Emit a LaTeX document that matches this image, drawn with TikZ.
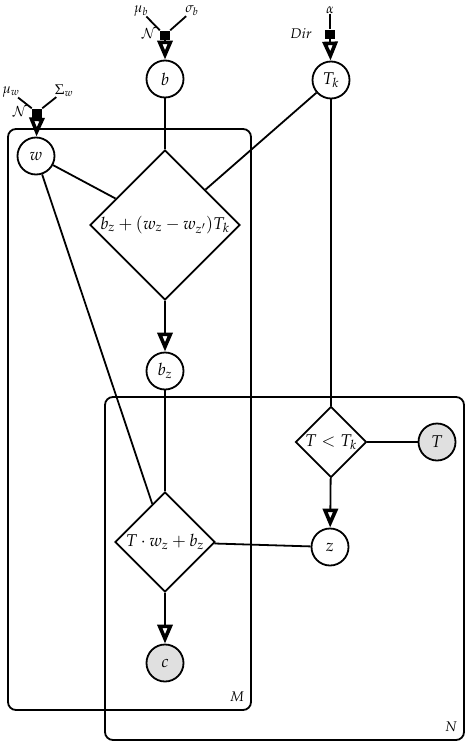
\documentclass[tikz,border=0pt]{standalone}
\usepackage{mathpazo}
\usetikzlibrary{shapes.geometric,arrows.meta}
\begin{document}
\begin{tikzpicture}[x=1pt,y=-1pt,
  every node/.style={font=\fontsize{17}{19}\selectfont},
  var/.style={circle,draw,line width=1.8pt,minimum size=37pt,inner sep=0pt,fill=white},
  obs/.style={var,fill=black!12},
  det/.style={diamond,draw,line width=1.8pt,inner sep=0pt,fill=white,aspect=1},
  fac/.style={rectangle,fill=black,minimum width=10pt,minimum height=9pt,inner sep=0pt},
  lab/.style={font=\fontsize{14}{16}\selectfont,inner sep=0pt},
  plate/.style={draw,line width=1.8pt,rounded corners=8pt},
  edge/.style={line width=1.8pt},
  arr/.style={edge,-{Triangle[open,length=19pt,width=15pt,line width=3.6pt]}}]
\useasboundingbox (0,0) rectangle (468,744);
% plates
\draw[plate] (8,129) rectangle (251,710);
\draw[plate] (105,397) rectangle (464,740);
\node[lab] (Mlab) at (237,697) {$M$};
\node[lab] (Nlab) at (451,727) {$N$};
% nodes
\node[var] (b) at (165,79) {$b$};
\node[var] (w) at (36,156) {$w$};
\node[var] (Tk) at (331,80) {$T_k$};
\node[det,minimum width=150pt,minimum height=150pt] (d1) at (165,225) {$b_z+(w_z-w_{z'})T_k$};
\node[var] (bz) at (165,371) {$b_z$};
\node[det,minimum width=71pt,minimum height=71pt] (d2) at (331,442) {$T<T_k$};
\node[obs] (T) at (437,442) {$T$};
\node[var] (z) at (330,547) {$z$};
\node[det,minimum width=100pt,minimum height=100pt] (d3) at (165,542) {$T\cdot w_z+b_z$};
\node[obs] (c) at (165,663) {$c$};
% factors
\node[fac] (fb) at (165,35) {};
\node[fac] (fw) at (37,113) {};
\node[fac] (fT) at (330,34) {};
\node[lab] (Nb) at (149,34) {$\mathcal{N}$};
\node[lab] (Nw) at (20,112) {$\mathcal{N}$};
\node[lab] (Dir) at (301,34) {$Dir$};
\node[lab] (mub) at (141,11) {$\mu_b$};
\node[lab] (sigb) at (192,11) {$\sigma_b$};
\node[lab] (muw) at (11,92) {$\mu_w$};
\node[lab] (Sigw) at (64,91) {$\Sigma_w$};
\node[lab] (alpha) at (330,10) {$\alpha$};
% factor inputs
\draw[edge] (mub) -- (fb.north west);
\draw[edge] (sigb) -- (fb.north east);
\draw[edge] (muw) -- (fw.north west);
\draw[edge] (Sigw) -- (fw.north east);
\draw[edge] (alpha) -- (fT.north);
\draw[arr] (fb.south) -- (b);
\draw[arr] (fw.south) -- (w);
\draw[arr] (fT.south) -- (Tk);
% edges
\draw[edge] (b) -- (d1);
\draw[edge] (w) -- (d1);
\draw[edge] (Tk) -- (d1);
\draw[arr] (d1) -- (bz);
\draw[edge] (Tk) -- (d2);
\draw[edge] (d2) -- (T);
\draw[arr] (d2) -- (z);
\draw[edge] (bz) -- (d3);
\draw[edge] (w) -- (d3);
\draw[edge] (d3) -- (z);
\draw[arr] (d3) -- (c);
\end{tikzpicture}
\end{document}
